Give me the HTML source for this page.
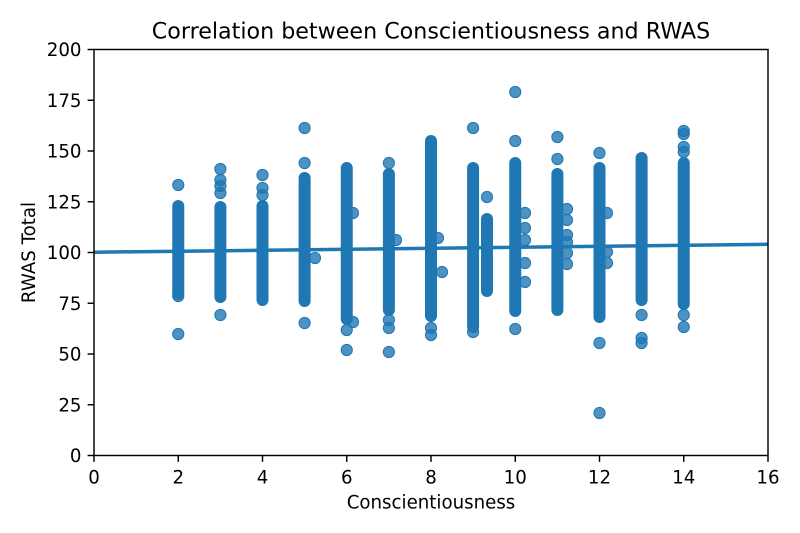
<!DOCTYPE html>
<html>
<head>
<meta charset="utf-8">
<style>
html,body{margin:0;padding:0;background:#fff;}
svg{display:block;}
text{font-family:"DejaVu Sans","Liberation Sans",sans-serif;fill:#000;}
</style>
</head>
<body>
<svg width="800" height="533" viewBox="0 0 800 533" xmlns="http://www.w3.org/2000/svg">
<rect width="800" height="533" fill="#fff"/>
<defs><clipPath id="ax"><rect x="94" y="49.5" width="674" height="406"/></clipPath></defs>
<g clip-path="url(#ax)">
<g stroke="#1f77b4" stroke-width="12" stroke-linecap="round" fill="none">
<line x1="178.25" y1="206" x2="178.25" y2="294"/>
<line x1="220.4" y1="207" x2="220.4" y2="297"/>
<line x1="262.5" y1="206" x2="262.5" y2="300"/>
<line x1="304.6" y1="178" x2="304.6" y2="301"/>
<line x1="346.75" y1="168" x2="346.75" y2="319"/>
<line x1="388.9" y1="174" x2="388.9" y2="310"/>
<line x1="431" y1="141" x2="431" y2="316"/>
<line x1="473.1" y1="168" x2="473.1" y2="327"/>
<line x1="487" y1="219" x2="487" y2="291"/>
<line x1="515.25" y1="163" x2="515.25" y2="311"/>
<line x1="557.4" y1="174" x2="557.4" y2="310"/>
<line x1="599.5" y1="168" x2="599.5" y2="317"/>
<line x1="641.6" y1="158" x2="641.6" y2="300"/>
<line x1="683.75" y1="163" x2="683.75" y2="304"/>
</g>
<g fill="#1f77b4" fill-opacity="0.8" stroke="#1f77b4" stroke-width="1">
<circle cx="178.25" cy="185" r="5.6"/>
<circle cx="178.25" cy="296" r="5.6"/>
<circle cx="178.25" cy="334" r="5.6"/>
<circle cx="220.4" cy="169" r="5.6"/>
<circle cx="220.4" cy="180" r="5.6"/>
<circle cx="220.4" cy="186" r="5.6"/>
<circle cx="220.4" cy="193" r="5.6"/>
<circle cx="220.4" cy="315" r="5.6"/>
<circle cx="262.5" cy="175" r="5.6"/>
<circle cx="262.5" cy="188" r="5.6"/>
<circle cx="262.5" cy="195" r="5.6"/>
<circle cx="304.6" cy="128" r="5.6"/>
<circle cx="304.6" cy="163" r="5.6"/>
<circle cx="304.6" cy="323" r="5.6"/>
<circle cx="315" cy="258" r="5.6"/>
<circle cx="346.75" cy="330" r="5.6"/>
<circle cx="346.75" cy="350" r="5.6"/>
<circle cx="353" cy="213" r="5.6"/>
<circle cx="353" cy="322" r="5.6"/>
<circle cx="388.9" cy="163" r="5.6"/>
<circle cx="388.9" cy="320" r="5.6"/>
<circle cx="388.9" cy="328" r="5.6"/>
<circle cx="388.9" cy="352" r="5.6"/>
<circle cx="396" cy="240" r="5.6"/>
<circle cx="431" cy="328" r="5.6"/>
<circle cx="431" cy="335" r="5.6"/>
<circle cx="438" cy="238" r="5.6"/>
<circle cx="442" cy="272" r="5.6"/>
<circle cx="473.1" cy="128" r="5.6"/>
<circle cx="473.1" cy="332" r="5.6"/>
<circle cx="487" cy="197" r="5.6"/>
<circle cx="515.25" cy="92" r="5.6"/>
<circle cx="515.25" cy="141" r="5.6"/>
<circle cx="515.25" cy="329" r="5.6"/>
<circle cx="525" cy="213" r="5.6"/>
<circle cx="525" cy="228" r="5.6"/>
<circle cx="525" cy="240" r="5.6"/>
<circle cx="525" cy="263" r="5.6"/>
<circle cx="525" cy="282" r="5.6"/>
<circle cx="557.4" cy="137" r="5.6"/>
<circle cx="557.4" cy="159" r="5.6"/>
<circle cx="567" cy="209" r="5.6"/>
<circle cx="567" cy="220" r="5.6"/>
<circle cx="567" cy="235" r="5.6"/>
<circle cx="567" cy="242" r="5.6"/>
<circle cx="567" cy="253" r="5.6"/>
<circle cx="567" cy="264" r="5.6"/>
<circle cx="599.5" cy="153" r="5.6"/>
<circle cx="599.5" cy="343" r="5.6"/>
<circle cx="599.5" cy="413" r="5.6"/>
<circle cx="607" cy="213" r="5.6"/>
<circle cx="607" cy="252" r="5.6"/>
<circle cx="607" cy="263" r="5.6"/>
<circle cx="641.6" cy="315" r="5.6"/>
<circle cx="641.6" cy="338" r="5.6"/>
<circle cx="641.6" cy="343" r="5.6"/>
<circle cx="683.75" cy="131" r="5.6"/>
<circle cx="683.75" cy="134" r="5.6"/>
<circle cx="683.75" cy="147" r="5.6"/>
<circle cx="683.75" cy="152" r="5.6"/>
<circle cx="683.75" cy="315" r="5.6"/>
<circle cx="683.75" cy="327" r="5.6"/>
</g>
<line x1="94" y1="252.2" x2="768" y2="244.3" stroke="#1f77b4" stroke-width="3.5"/>
</g>
<rect x="94" y="49.5" width="674" height="406" fill="none" stroke="#000" stroke-width="1.45"/>
<g stroke="#000" stroke-width="1.45">
<line x1="87.6" y1="455.5" x2="94" y2="455.5"/>
<line x1="87.6" y1="404.75" x2="94" y2="404.75"/>
<line x1="87.6" y1="354" x2="94" y2="354"/>
<line x1="87.6" y1="303.25" x2="94" y2="303.25"/>
<line x1="87.6" y1="252.5" x2="94" y2="252.5"/>
<line x1="87.6" y1="201.75" x2="94" y2="201.75"/>
<line x1="87.6" y1="151" x2="94" y2="151"/>
<line x1="87.6" y1="100.25" x2="94" y2="100.25"/>
<line x1="87.6" y1="49.5" x2="94" y2="49.5"/>
<line x1="94" y1="455.5" x2="94" y2="461.9"/>
<line x1="178.25" y1="455.5" x2="178.25" y2="461.9"/>
<line x1="262.5" y1="455.5" x2="262.5" y2="461.9"/>
<line x1="346.75" y1="455.5" x2="346.75" y2="461.9"/>
<line x1="431" y1="455.5" x2="431" y2="461.9"/>
<line x1="515.25" y1="455.5" x2="515.25" y2="461.9"/>
<line x1="599.5" y1="455.5" x2="599.5" y2="461.9"/>
<line x1="683.75" y1="455.5" x2="683.75" y2="461.9"/>
<line x1="768" y1="455.5" x2="768" y2="461.9"/>
</g>
<g font-size="18.2" text-anchor="end">
<text x="81.5" y="462.1">0</text>
<text x="81.5" y="411.4">25</text>
<text x="81.5" y="360.6">50</text>
<text x="81.5" y="309.9">75</text>
<text x="81.5" y="259.1">100</text>
<text x="81.5" y="208.4">125</text>
<text x="81.5" y="157.6">150</text>
<text x="81.5" y="106.9">175</text>
<text x="81.5" y="56.1">200</text>
</g>
<g font-size="18.2" text-anchor="middle">
<text x="94" y="483.5">0</text>
<text x="178.25" y="483.5">2</text>
<text x="262.5" y="483.5">4</text>
<text x="346.75" y="483.5">6</text>
<text x="431" y="483.5">8</text>
<text x="515.25" y="483.5">10</text>
<text x="599.5" y="483.5">12</text>
<text x="683.75" y="483.5">14</text>
<text x="768" y="483.5">16</text>
<text x="431" y="508.5">Conscientiousness</text>
<text transform="translate(35,252.5) rotate(-90)" x="0" y="0">RWAS Total</text>
</g>
<text x="431" y="38.5" font-size="22.2" text-anchor="middle">Correlation between Conscientiousness and RWAS</text>
</svg>
</body>
</html>
